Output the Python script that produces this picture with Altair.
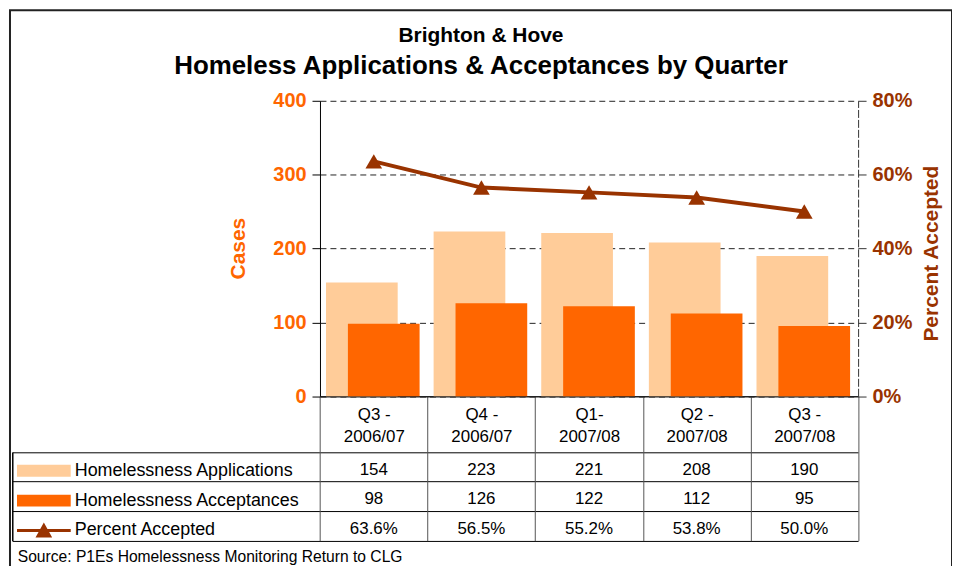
import altair as alt
import pandas as pd
import json

# ---- data ----
categories = ["Q3 - 2006/07", "Q4 - 2006/07", "Q1- 2007/08", "Q2 - 2007/08", "Q3 - 2007/08"]
applications = [154, 223, 221, 208, 190]
acceptances = [98, 126, 122, 112, 95]
pct_accepted = [0.636, 0.565, 0.552, 0.538, 0.500]
series_names = ["Homelessness Applications", "Homelessness Acceptances", "Percent Accepted"]
series_colors = ["#FFCC99", "#FF6600", "#993300"]
cases_ticks = [0, 100, 200, 300, 400]
pct_ticks = [0, 0.2, 0.4, 0.6, 0.8]

df = pd.DataFrame({"cat": categories, "apps": applications, "accs": acceptances, "pct": pct_accepted})

rows = []
for i, c in enumerate(categories):
    rows.append({"cat": c, "series": series_names[0], "txt": str(applications[i])})
    rows.append({"cat": c, "series": series_names[1], "txt": str(acceptances[i])})
    rows.append({"cat": c, "series": series_names[2], "txt": f"{pct_accepted[i]*100:.1f}%"})
tdf = pd.DataFrame(rows)

# ---- layout (view coordinates) ----
W, H = 946, 560
XL, XR = 311.3, 851.7          # plot area left/right
Y0, Y1 = 387.7, 91.0           # plot area bottom/top
TL = 2.3                        # table left edge
TR0, TR1 = 443.7, 532.7         # table data rows top/bottom
n = len(categories)
step = (XR - XL) / n

FONT = "Liberation Sans"

x_scale = alt.Scale(domain=categories, range=[XL, XR], paddingInner=0, paddingOuter=0)
x_axis = alt.Axis(orient="bottom", offset=-(H - Y0), title=None, grid=False,
                  tickBand="extent", tickSize=TR1 - Y0, tickColor="#555", tickWidth=1,
                  domainColor="#222", domainWidth=1.5,
                  labelExpr="[substring(datum.label, 0, indexof(datum.label, ' 2')), substring(datum.label, indexof(datum.label, ' 2') + 1)]",
                  labelFontSize=17, labelColor="#000", labelAngle=0, labelBaseline="top",
                  labelLineHeight=22, labelPadding=-(TR1 - Y0) + 10, labelFont=FONT)
xn = alt.X("cat:N", sort=categories, scale=x_scale, axis=x_axis)

y_cases_scale = alt.Scale(domain=[0, 400], range=[Y0, Y1], nice=False, zero=True)
y_cases_axis = alt.Axis(orient="left", offset=-XL, values=cases_ticks, title="Cases",
                        titleColor="#FF6600", titleFontSize=21, titleFontWeight="bold", titleFont=FONT,
                        titleAngle=270, titleX=-82, titleY=239, titleAlign="center",
                        titleBaseline="middle",
                        labelColor="#FF6600", labelFontSize=20, labelFontWeight="bold", labelFont=FONT,
                        labelPadding=6,
                        tickSize=8, tickColor="#000", domainColor="#000",
                        grid=True, gridColor="#222", gridDash=[6, 4], gridWidth=1)

y_pct_scale = alt.Scale(domain=[0, 0.8], range=[Y0, Y1], nice=False, zero=True)
y_pct_axis = alt.Axis(orient="right", offset=-(W - XR), values=pct_ticks, format=".0%",
                      title="Percent Accepted", titleAngle=270,
                      titleX=74, titleY=244, titleAlign="center", titleBaseline="middle",
                      titleColor="#993300", titleFontSize=21, titleFontWeight="bold", titleFont=FONT,
                      labelColor="#993300", labelFontSize=20, labelFontWeight="bold", labelFont=FONT,
                      labelPadding=6,
                      tickSize=8, tickColor="#333", domainColor="#333", domainDash=[8, 2],
                      grid=False)

bars_apps = alt.Chart(df).mark_bar(size=72, xOffset=-12, color=series_colors[0]).encode(
    x=xn, y=alt.Y("apps:Q", scale=y_cases_scale, axis=y_cases_axis))
bars_accs = alt.Chart(df).mark_bar(size=72, xOffset=10, color=series_colors[1]).encode(
    x=xn, y=alt.Y("accs:Q", scale=y_cases_scale, axis=y_cases_axis))

line = alt.Chart(df).mark_line(color=series_colors[2], strokeWidth=4).encode(
    x=xn, y=alt.Y("pct:Q", scale=y_pct_scale, axis=y_pct_axis))
pts = alt.Chart(df).mark_point(shape="triangle-up", filled=True, size=280, opacity=1,
                               color=series_colors[2]).encode(
    x=xn, y=alt.Y("pct:Q", scale=y_pct_scale, axis=y_pct_axis))

plot = alt.layer(alt.layer(bars_apps, bars_accs), alt.layer(line, pts)).resolve_scale(y="independent")

# ---- data table ----
col_expr = "indexof(" + json.dumps(categories) + ", datum.cat) + 0.5"
xw = alt.X("col:Q",
           scale=alt.Scale(domain=[-(XL - TL) / step, n], range=[TL, XR], nice=False, zero=False),
           axis=None)
row_axis = alt.Axis(orient="left", offset=-TL, labels=False, ticks=False,
                    domainColor="#000", domainWidth=1.5,
                    grid=True, gridColor="#000", gridWidth=1, tickBand="extent",
                    title="Source: P1Es Homelessness Monitoring Return to CLG",
                    titleAngle=0, titleAlign="left", titleBaseline="middle",
                    titleX=5, titleY=549, titleFontSize=15.7, titleFontWeight="normal",
                    titleColor="#000", titleFont=FONT)
yr = alt.Y("series:N", sort=series_names,
           scale=alt.Scale(domain=series_names, range=[TR0, TR1], paddingInner=0, paddingOuter=0),
           axis=row_axis)

paths = [
    "M-1,-0.22L1,-0.22L1,0.22L-1,0.22Z",
    "M-1,-0.22L1,-0.22L1,0.22L-1,0.22Z",
    "M-1,-0.06L1,-0.06L1,0.06L-1,0.06Z M-0.31,0.26L0,-0.3L0.31,0.26Z",
]
legend = alt.Legend(orient="none", legendX=7, legendY=TR0 + 4, title=None,
                    labelFontSize=18, labelColor="#000", labelFont=FONT, labelLimit=500,
                    symbolSize=2916, symbolStrokeWidth=0, symbolOpacity=1,
                    clipHeight=(TR1 - TR0) / 3, rowPadding=0, padding=0, labelOffset=4)

cells = alt.Chart(tdf).transform_calculate(col=col_expr).mark_text(
    fontSize=17, font=FONT, color="#000", dy=3).encode(x=xw, y=yr, text="txt:N")
keys = alt.Chart(tdf).transform_calculate(col=col_expr).mark_point(filled=True, opacity=0).encode(
    x=xw, y=yr,
    color=alt.Color("series:N", scale=alt.Scale(domain=series_names, range=series_colors), legend=legend),
    shape=alt.Shape("series:N", scale=alt.Scale(domain=series_names, range=paths), legend=legend))

table = alt.layer(cells, keys)

chart = alt.layer(plot, table).resolve_scale(x="independent", y="independent").properties(
    width=W, height=H,
    autosize=alt.AutoSizeParams(type="none"),
    padding={"left": 2, "top": 1, "right": 0, "bottom": 0},
    title=alt.Title(text="Brighton & Hove",
                    subtitle="Homeless Applications & Acceptances by Quarter",
                    anchor="middle", frame="group", orient="top", offset=-69,
                    fontSize=21, font=FONT, fontWeight="bold", color="#000",
                    subtitleFontSize=26, subtitleFont=FONT, subtitleFontWeight="bold",
                    subtitleColor="#000", subtitlePadding=7),
).configure(font=FONT, view=alt.ViewConfig(stroke="#222", strokeWidth=2))

chart.save("out.html", embed_options={"renderer": "svg", "actions": False})
